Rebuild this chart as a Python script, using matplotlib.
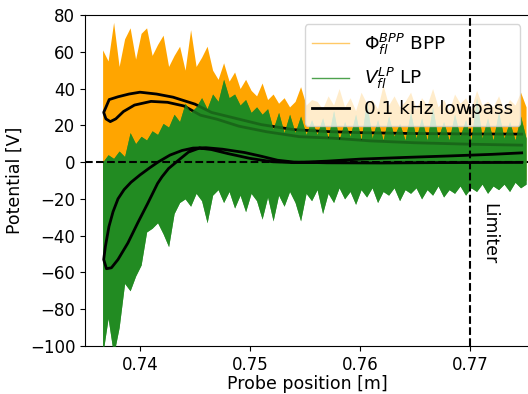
import numpy as np
import matplotlib
matplotlib.use("Agg")
import matplotlib.pyplot as plt
from matplotlib.lines import Line2D

plt.rcParams['font.size'] = 12

# sample positions of the raw signals [m]
x_raw = np.linspace(0.7366, 0.7751, 78)

# BPP floating potential, upper edge of the noisy trace [V]
bpp_high = [61, 55, 76, 52, 67, 73, 56, 70, 73, 58,
            64, 69, 52, 58, 63, 50, 72, 52, 57, 63,
            50, 45, 54, 44, 49, 40, 45, 39, 36, 43,
            34, 37, 32, 35, 30, 33, 41, 31, 34,
            33, 29, 36, 31, 40, 30, 35, 28, 38, 32,
            34, 29, 42, 31, 36, 30, 33, 38, 29, 35,
            31, 40, 30, 34, 28, 37, 32, 35, 29, 39,
            31, 33, 30, 36, 28, 34, 31, 38, 30]

# LP floating potential, upper and lower edges of the noisy trace [V]
lp_high = [0, 4, 2, 6, 3, 16, 10, 14, 12, 17,
           15, 21, 19, 26, 22, 32, 27, 30, 35, 29,
           37, 33, 45, 35, 37, 31, 34, 27, 30, 26,
           29, 18, 27, 16, 26, 16, 25, 15, 23, 15,
           24, 13, 28, 12, 22, 14, 26, 12, 33, 13,
           23, 12, 25, 14, 21, 12, 27, 13, 24, 12,
           30, 13, 22, 12, 26, 14, 23, 12, 35, 13,
           24, 12, 27, 13, 22, 12, 25, 13]
lp_low = [-105, -85, -105, -90, -66, -70, -62, -56, -38, -36,
          -33, -39, -46, -28, -22, -20, -24, -17, -21, -33,
          -18, -15, -22, -16, -25, -18, -27, -17, -21, -31,
          -19, -32, -18, -24, -16, -22, -32, -17, -21, -15,
          -28, -17, -22, -14, -20, -16, -23, -15, -19, -14,
          -22, -16, -18, -14, -21, -15, -17, -14, -20, -15,
          -18, -13, -19, -15, -17, -13, -18, -14, -16, -12,
          -17, -13, -15, -12, -16, -11, -14, -12]

# 0.1 kHz lowpass, BPP: outward and return branch
bpp_lp_x_out = [0.7747, 0.770, 0.765, 0.760, 0.757, 0.754, 0.751, 0.748, 0.7465,
                0.745, 0.743, 0.7415, 0.740, 0.739, 0.738, 0.7372, 0.7367]
bpp_lp_y_out = [15.2, 15.3, 15.5, 16.0, 16.6, 17.6, 20.4, 24.8, 27.0,
                31.5, 35.3, 37.0, 38.0, 37.0, 35.5, 34.0, 27.0]
bpp_lp_x_ret = [0.7369, 0.7373, 0.7378, 0.7385, 0.7395, 0.741, 0.7425, 0.744, 0.7455,
                0.747, 0.749, 0.7515, 0.7545, 0.7575, 0.761, 0.765, 0.770, 0.7747]
bpp_lp_y_ret = [23.5, 22.0, 23.5, 27.5, 31.0, 33.0, 32.5, 30.5, 25.5,
                23.3, 19.5, 16.5, 13.8, 13.0, 11.5, 10.5, 9.7, 9.2]

# 0.1 kHz lowpass, LP: outward and return branch
lp_lp_x_out = [0.7747, 0.767, 0.762, 0.757, 0.754, 0.7525, 0.751, 0.7495, 0.7475,
               0.746, 0.74482, 0.74382, 0.74273, 0.74164, 0.74091, 0.7400, 0.73918,
               0.73855, 0.7380, 0.73755, 0.73718, 0.73685, 0.7367]
lp_lp_y_out = [-0.2, -0.3, -0.5, -0.4, 0.0, 1.0, 3.2, 5.2, 7.0,
               7.8, 7.6, 6.3, 3.8, 0.0, -3.0, -7.0, -11.0,
               -15.0, -20.0, -27.0, -35.0, -46.0, -53.0]
lp_lp_x_ret = [0.73695, 0.7374, 0.738, 0.7389, 0.7398, 0.7407, 0.7416, 0.742, 0.7426,
               0.7435, 0.7444, 0.7454, 0.7465, 0.748, 0.750, 0.752, 0.754, 0.757,
               0.760, 0.764, 0.768, 0.772, 0.7747]
lp_lp_y_ret = [-58.0, -57.5, -53.0, -44.0, -33.0, -22.5, -11.6, -8.0, -3.5,
               1.0, 5.4, 7.6, 6.8, 4.6, 2.0, 0.2, -0.3, 0.5,
               1.6, 2.5, 3.3, 4.2, 5.0]

limiter_pos = 0.77

fig = plt.figure(figsize=(5.28, 3.94), dpi=100)
ax = fig.add_axes([0.161, 0.122, 0.842, 0.84])

green = '#228B22'

# raw signals
ax.fill_between(x_raw, -10, bpp_high, color='orange', lw=0, zorder=1)
ax.fill_between(x_raw, lp_low, lp_high, color=green, lw=0, zorder=2)

# BPP lowpass sits below the LP trace
ax.plot(bpp_lp_x_out + bpp_lp_x_ret, bpp_lp_y_out + bpp_lp_y_ret, color='k', lw=2, zorder=3)
ax.fill_between(x_raw, lp_low, lp_high, color=green, lw=0, alpha=0.75, zorder=4)

ax.plot(lp_lp_x_out + lp_lp_x_ret, lp_lp_y_out + lp_lp_y_ret, color='k', lw=2, zorder=5)

ax.axhline(0, color='k', ls='--', lw=1.5, zorder=6)
ax.axvline(limiter_pos, color='k', ls='--', lw=1.5, zorder=6)
ax.text(0.7709, -39, 'Limiter', rotation=270, ha='left', va='center', fontsize=12.5)

ax.set_xlim(0.735, 0.77542)
ax.set_ylim(-100, 80)
ax.set_xticks([0.74, 0.75, 0.76, 0.77])
ax.set_yticks(np.arange(-100, 81, 20))
ax.tick_params(labelsize=12)
ax.set_xlabel('Probe position [m]', fontsize=12.5, labelpad=1)
ax.set_ylabel('Potential [V]', fontsize=12.5)

handles = [Line2D([], [], color='orange', lw=1, alpha=0.6),
           Line2D([], [], color=green, lw=1, alpha=0.8),
           Line2D([], [], color='k', lw=2)]
labels = [r'$\mathit{\Phi}_{fl}^{BPP}$ BPP', r'$V_{fl}^{LP}$ LP', '0.1 kHz lowpass']
ax.legend(handles, labels, loc='upper right', framealpha=0.8, fontsize=13.3)

fig.savefig('out.png', dpi=100)
